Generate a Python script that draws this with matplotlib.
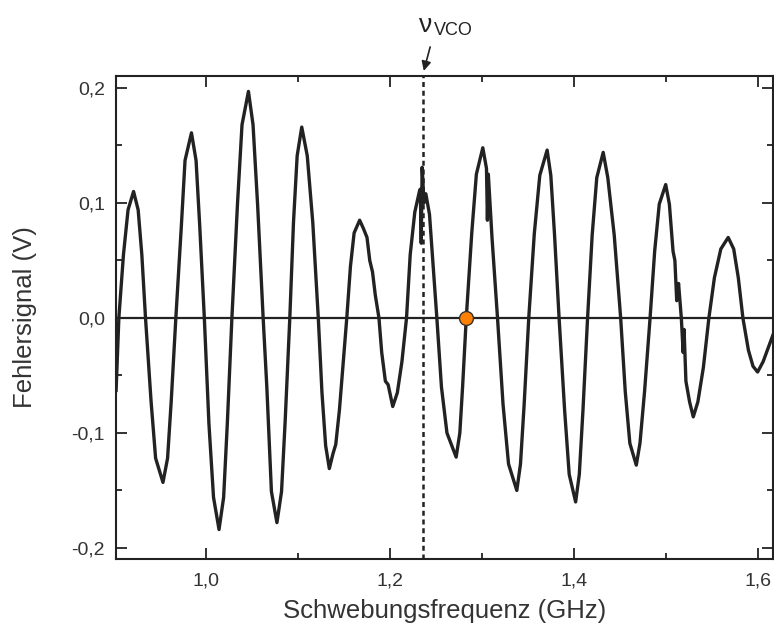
import matplotlib
matplotlib.use("Agg")
import matplotlib.pyplot as plt
from matplotlib.ticker import MultipleLocator, FuncFormatter

plt.rcParams['font.family'] = ['Liberation Sans', 'DejaVu Sans']

# Schwebungsfrequenz (GHz) und Fehlersignal (V)
freq = [0.902, 0.905, 0.910, 0.915, 0.921, 0.926, 0.930, 0.934,
        0.940, 0.945, 0.953, 0.958, 0.962, 0.967,
        0.973, 0.977, 0.984, 0.989, 0.993, 0.998,
        1.003, 1.008, 1.014, 1.019, 1.023, 1.028,
        1.034, 1.039, 1.046, 1.051, 1.056, 1.062,
        1.066, 1.071, 1.077, 1.082, 1.086, 1.091,
        1.095, 1.099, 1.104, 1.110, 1.116, 1.122,
        1.126, 1.130, 1.134, 1.138, 1.141, 1.145, 1.149, 1.153,
        1.157, 1.161, 1.167, 1.171, 1.175, 1.178, 1.181, 1.184, 1.188,
        1.191, 1.195, 1.198, 1.203, 1.208, 1.213, 1.218,
        1.222, 1.227, 1.232, 1.233, 1.234, 1.235, 1.237, 1.239, 1.243, 1.247, 1.251,
        1.256, 1.262, 1.272, 1.276, 1.279, 1.283,
        1.289, 1.294, 1.301, 1.305, 1.306, 1.307, 1.311, 1.317,
        1.323, 1.329, 1.338, 1.342, 1.346, 1.351,
        1.357, 1.363, 1.371, 1.375, 1.379, 1.384,
        1.390, 1.395, 1.402, 1.406, 1.410, 1.415,
        1.420, 1.425, 1.432, 1.437, 1.444, 1.451,
        1.456, 1.461, 1.468, 1.472, 1.477, 1.483,
        1.488, 1.493, 1.500, 1.504, 1.508, 1.510, 1.512, 1.514, 1.517,
        1.519, 1.520, 1.522, 1.526, 1.530, 1.535, 1.541, 1.547,
        1.553, 1.560, 1.568, 1.574, 1.579, 1.584,
        1.590, 1.595, 1.600, 1.606, 1.612, 1.618]
signal = [-0.063, 0.0, 0.055, 0.094, 0.110, 0.094, 0.055, 0.0,
          -0.072, -0.122, -0.143, -0.122, -0.072, 0.0,
          0.080, 0.137, 0.161, 0.137, 0.080, 0.0,
          -0.092, -0.156, -0.184, -0.156, -0.092, 0.0,
          0.098, 0.168, 0.197, 0.168, 0.098, 0.0,
          -0.060, -0.151, -0.178, -0.151, -0.089, 0.0,
          0.083, 0.141, 0.166, 0.141, 0.083, 0.0,
          -0.065, -0.111, -0.131, -0.118, -0.110, -0.080, -0.040, 0.0,
          0.045, 0.074, 0.085, 0.078, 0.070, 0.050, 0.040, 0.020, 0.0,
          -0.030, -0.055, -0.058, -0.077, -0.065, -0.038, 0.0,
          0.055, 0.092, 0.110, 0.112, 0.065, 0.131, 0.100, 0.108, 0.090, 0.045, 0.0,
          -0.060, -0.100, -0.121, -0.100, -0.060, 0.0,
          0.074, 0.125, 0.148, 0.130, 0.085, 0.125, 0.070, 0.0,
          -0.075, -0.127, -0.150, -0.127, -0.075, 0.0,
          0.073, 0.124, 0.146, 0.124, 0.073, 0.0,
          -0.080, -0.136, -0.160, -0.136, -0.080, 0.0,
          0.072, 0.122, 0.144, 0.122, 0.072, 0.0,
          -0.064, -0.109, -0.128, -0.109, -0.064, 0.0,
          0.058, 0.099, 0.116, 0.099, 0.058, 0.050, 0.015, 0.030, 0.0,
          -0.030, -0.010, -0.055, -0.073, -0.086, -0.073, -0.043, 0.0,
          0.035, 0.060, 0.070, 0.060, 0.035, 0.0,
          -0.028, -0.042, -0.047, -0.038, -0.025, -0.012]

nu_vco = 1.236
punkt_x = 1.283
punkt_y = 0.0

fig = plt.figure(figsize=(7.74, 6.35), dpi=100)
ax = fig.add_axes([0.150, 0.1197, 0.849, 0.7606])

ax.axhline(0, color='#222222', lw=1.6, zorder=1)
ax.plot(freq, signal, color='#222222', lw=2.4, zorder=2)
ax.axvline(nu_vco, color='#222222', lw=1.8, linestyle=(0, (2, 1.5)), zorder=3)
ax.plot([punkt_x], [punkt_y], 'o', ms=10, mfc='#ff8000', mec='#333333', mew=1.0, zorder=4)

ax.set_xlim(0.902, 1.617)
ax.set_ylim(-0.2096, 0.2104)

ax.xaxis.set_major_locator(MultipleLocator(0.2))
ax.xaxis.set_minor_locator(MultipleLocator(0.1))
ax.yaxis.set_major_locator(MultipleLocator(0.1))
ax.yaxis.set_minor_locator(MultipleLocator(0.05))
fmt = FuncFormatter(lambda v, p: ('%.1f' % v).replace('.', ',').replace('-0,0', '0,0'))
ax.xaxis.set_major_formatter(fmt)
ax.yaxis.set_major_formatter(fmt)

ax.tick_params(which='both', direction='in', top=True, right=True, width=1.3,
               colors='#222222', labelcolor='#333333', labelsize=14)
ax.tick_params(which='major', length=8)
ax.tick_params(axis='x', which='major', pad=10)
ax.tick_params(axis='y', which='major', pad=8)
ax.tick_params(which='minor', length=4.5)
for s in ax.spines.values():
    s.set_linewidth(1.5)
    s.set_color('#222222')

ax.set_xlabel('Schwebungsfrequenz (GHz)', fontsize=18.5, color='#333333')
ax.set_ylabel('Fehlersignal (V)', fontsize=18.5, color='#333333')
ax.xaxis.set_label_coords(0.5, -0.083)
ax.yaxis.set_label_coords(-0.120, 0.5)

ax.annotate('', xy=(nu_vco, 0.2125), xytext=(1.2445, 0.238), xycoords='data',
            annotation_clip=False,
            arrowprops=dict(arrowstyle='-|>', color='#222222', lw=1.2, mutation_scale=14))
ax.text(1.2385, 0.255, 'ν', fontsize=19, color='#222222', ha='center', va='center')
ax.text(1.2475, 0.250, 'VCO', fontsize=13, color='#222222', ha='left', va='center')

fig.savefig('out.png', dpi=100)
